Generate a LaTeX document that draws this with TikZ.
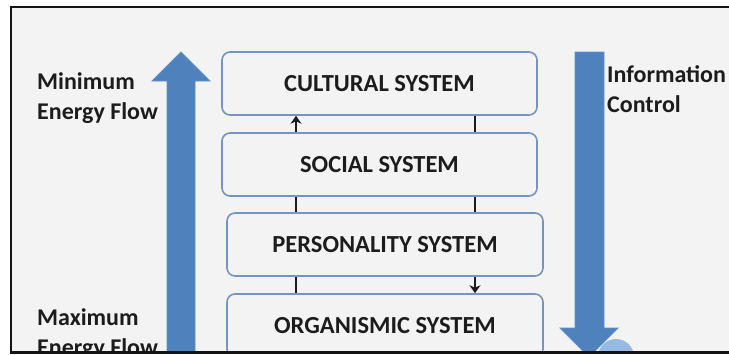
\documentclass[tikz,border=0pt]{standalone}
\usepackage{fontspec}
\setmainfont{Carlito}
\usetikzlibrary{arrows.meta}
\definecolor{panel}{RGB}{243,243,243}
\definecolor{flowblue}{RGB}{79,129,189}
\definecolor{flowedge}{RGB}{96,145,204}
\definecolor{boxedge}{RGB}{118,148,192}
\definecolor{paleblue}{RGB}{150,186,228}
\definecolor{ink}{RGB}{28,28,28}
\tikzset{
  sysbox/.style={draw=boxedge, line width=1.6pt, rounded corners=8pt, fill=panel,
    minimum height=63pt, inner sep=0pt, text=ink,
    font=\fontsize{24.5}{28}\selectfont\bfseries},
  sidelabel/.style={anchor=north west, inner sep=0pt, align=left, text=ink,
    font=\fontsize{24}{30}\selectfont\bfseries},
  flow/.style={fill=flowblue, draw=flowedge, line width=0.8pt},
  link/.style={line width=2.8pt, draw=ink},
  linkarrow/.style={link, -{Stealth[length=8pt, width=11pt]}},
}
\begin{document}
\begin{tikzpicture}[x=1pt, y=-1pt]
\useasboundingbox (0,0) rectangle (729,354);
% panel with its frame
\fill[panel] (11,7) rectangle (729,354);
\begin{scope}
\clip (11,7) rectangle (729,352);
% faint round shape under the downward arrow
\fill[paleblue] (616,357) circle (18);
% upward energy arrow
\draw[flow] (167,360) -- (167,81) -- (152,81) -- (181,52) -- (210,81) -- (195,81) -- (195,360) -- cycle;
% downward information arrow
\draw[flow] (575,52) -- (604,52) -- (604,328) -- (618,328) -- (589,357) -- (560,328) -- (575,328) -- cycle;
% the four systems
\node[sysbox, minimum width=315pt] (cul) at (379.5,83.5) {CULTURAL SYSTEM};
\node[sysbox, minimum width=315pt] (soc) at (379.5,164.5) {SOCIAL SYSTEM};
\node[sysbox, minimum width=316pt] (per) at (385,244.5) {PERSONALITY SYSTEM};
\node[sysbox, minimum width=316pt] (org) at (385,325.5) {ORGANISMIC SYSTEM};
% connector columns
\coordinate (lx) at (296,0);
\coordinate (rx) at (475,0);
\draw[linkarrow] (soc.north -| lx) -- (cul.south -| lx);
\draw[link] (cul.south -| rx) -- (soc.north -| rx);
\draw[link] (soc.south -| lx) -- (per.north -| lx);
\draw[link] (soc.south -| rx) -- (per.north -| rx);
\draw[link] (per.south -| lx) -- (org.north -| lx);
\draw[linkarrow] (per.south -| rx) -- (org.north -| rx);
% side labels
\node[sidelabel] (minflow) at (37,72) {Minimum\\Energy Flow};
\node[sidelabel] (maxflow) at (37,308) {Maximum\\Energy Flow};
\node[sidelabel] (info) at (607,65) {Information\\Control};
\end{scope}
\draw[line width=2.6pt, black!92] (729,7) -- (11,7) -- (11,354);
\draw[line width=2.6pt, black!92] (11,352.5) -- (729,352.5);
\end{tikzpicture}
\end{document}
